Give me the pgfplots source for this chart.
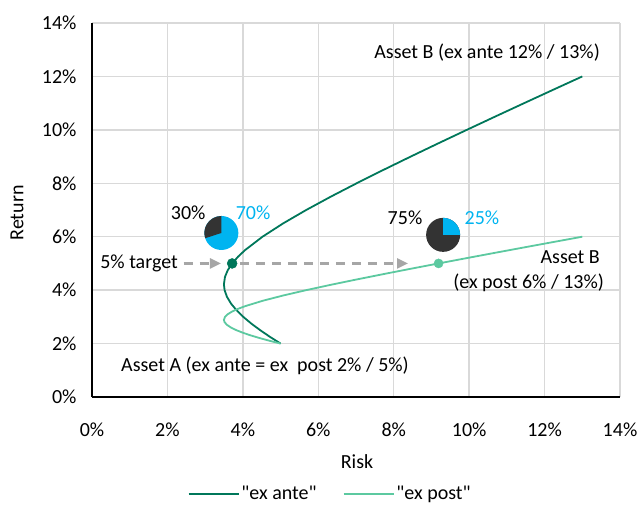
\documentclass[border=0pt]{standalone}
\usepackage{fontspec}
\setmainfont{Carlito}[Ligatures=TeXOff]
\usepackage{pgfplots}
\pgfplotsset{compat=1.18}
\usetikzlibrary{arrows.meta}
\definecolor{ante}{HTML}{00775A}
\definecolor{post}{HTML}{5CC9A0}
\definecolor{piedark}{HTML}{333333}
\definecolor{pieblue}{HTML}{00B4F0}
\definecolor{gridc}{HTML}{D9D9D9}
\definecolor{arrowc}{HTML}{A6A6A6}
\begin{document}
\begin{tikzpicture}[font=\fontsize{20}{24}\selectfont]
\begin{axis}[
  at={(0,0)}, anchor=south west,
  scale only axis, width=528pt, height=374pt,
  xmin=0, xmax=14, ymin=0, ymax=14,
  xtick={0,2,...,14}, ytick={0,2,...,14},
  xticklabel={\pgfmathprintnumber{\tick}\%},
  yticklabel={\pgfmathprintnumber{\tick}\%},
  /pgf/number format/assume math mode=true,
  axis lines=left, axis line style={-, black, line width=1.8pt},
  grid=major, grid style={gridc, line width=1.4pt},
  major tick length=0pt,
  tick label style={font=\fontsize{20}{24}\selectfont, black},
  xticklabel style={anchor=north, yshift=-22pt},
  yticklabel style={anchor=east, xshift=-12pt},
  xlabel={Risk}, ylabel={Return},
  xlabel style={at={(axis description cs:0.502,-0.174)}, anchor=center},
  ylabel style={at={(axis description cs:-0.142,0.492)}, anchor=center, rotate=0},
  label style={font=\fontsize{20}{24}\selectfont},
  legend style={at={(axis description cs:0.451,-0.259)}, anchor=center, draw=none, fill=none,
    legend columns=2, font=\fontsize{20}{24}\selectfont,
    /tikz/every even column/.append style={column sep=24pt}},
  legend image code/.code={\draw[#1] (0pt,0pt) -- (50pt,0pt);},
  clip=false,
]
\addplot[ante, line width=1.8pt, no markers] coordinates {
(5.0000,2.00) (4.7209,2.25) (4.4607,2.50) (4.2228,2.75) (4.0112,3.00)
(3.8304,3.25) (3.6848,3.50) (3.5787,3.75) (3.5157,4.00) (3.4978,4.22)
(3.5267,4.50) (3.6003,4.75) (3.7162,5.00) (3.8708,5.25) (4.0593,5.50)
(4.5211,6.00) (5.0693,6.50) (5.6789,7.00) (6.3323,7.50) (7.0171,8.00)
(7.7251,8.50) (8.4504,9.00) (9.1890,9.50) (9.9378,10.00) (10.6947,10.50)
(11.4582,11.00) (12.2269,11.50) (13.0000,12.00)
};
\addlegendentry{"ex ante"}
\addplot[post, line width=1.8pt, no markers] coordinates {
(5.0000,2.00) (4.7209,2.10) (4.4607,2.20) (4.2228,2.30) (4.0112,2.40)
(3.8304,2.50) (3.6848,2.60) (3.5787,2.70) (3.5157,2.80) (3.4978,2.888)
(3.5267,3.00) (3.6003,3.10) (3.7162,3.20) (3.8708,3.30) (4.0593,3.40)
(4.5211,3.60) (5.0693,3.80) (5.6789,4.00) (6.3323,4.20) (7.0171,4.40)
(7.7251,4.60) (8.4504,4.80) (9.1890,5.00) (9.9378,5.20) (10.6947,5.40)
(11.4582,5.60) (12.2269,5.80) (13.0000,6.00)
};
\addlegendentry{"ex post"}
% target arrows
\draw[arrowc, line width=2.2pt, dash pattern=on 9pt off 7pt, -{Triangle[length=11pt,width=10pt]}] (axis cs:2.43,5) -- (axis cs:3.42,5);
\draw[arrowc, line width=2.2pt, dash pattern=on 9pt off 7pt, -{Triangle[length=11pt,width=10pt]}] (axis cs:3.92,5) -- (axis cs:8.38,5);
\addplot[only marks, mark=*, mark size=5pt, ante, forget plot] coordinates {(3.7162,5)};
\addplot[only marks, mark=*, mark size=4.6pt, post, forget plot] coordinates {(9.1890,5)};
% pies
\fill[pieblue] (axis cs:3.43,6.14) circle[radius=17pt];
\fill[piedark] (axis cs:3.43,6.14) -- ++(90:17pt) arc[start angle=90, end angle=198, radius=17pt] -- cycle;
\fill[piedark] (axis cs:9.31,6.07) circle[radius=17pt];
\fill[pieblue] (axis cs:9.31,6.07) -- ++(90:17pt) arc[start angle=90, end angle=0, radius=17pt] -- cycle;
\node[black] at (axis cs:2.55,6.89) {30\%};
\node[pieblue] at (axis cs:4.27,6.89) {70\%};
\node[black] at (axis cs:8.30,6.70) {75\%};
\node[pieblue] at (axis cs:10.34,6.70) {25\%};
% annotations
\node[anchor=east, inner sep=0pt] at (axis cs:13.47,12.88) {Asset B (ex ante 12\% / 13\%)};
\node[anchor=east, inner sep=0pt] at (axis cs:13.47,5.24) {Asset B};
\node[anchor=east, inner sep=0pt] at (axis cs:13.58,4.27) {(ex post 6\% / 13\%)};
\node[anchor=west, inner sep=0pt] at (axis cs:0.77,1.16) {Asset A (ex ante = ex\ \ post 2\% / 5\%)};
\node[anchor=east, inner sep=0pt] at (axis cs:2.28,5.0) {5\% target};
\end{axis}
\pgfresetboundingbox
\path[use as bounding box] (-92pt,-107pt) rectangle (547pt,397pt);
\end{tikzpicture}
\end{document}
